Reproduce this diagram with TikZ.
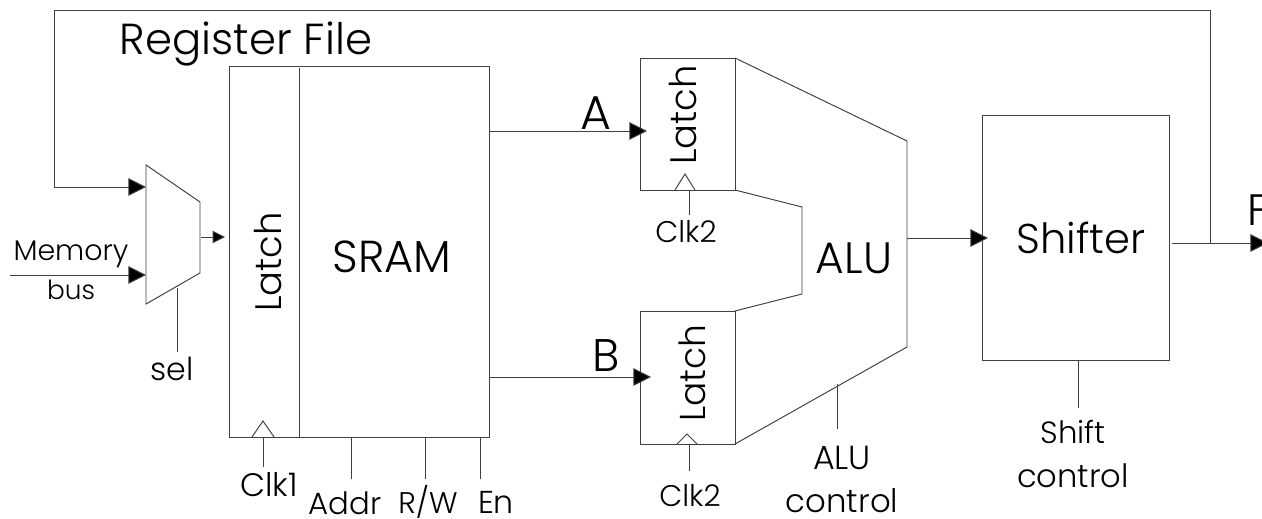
\documentclass[tikz,border=0pt]{standalone}
\usepackage{fontspec}
\setmainfont{Poppins Light}
\usetikzlibrary{arrows.meta}
\tikzset{
  line/.style={line width=0.55pt,draw=black!75},
  arw/.style={line,-{Triangle[length=10pt,width=10pt,fill=black]}},
  arwsmall/.style={line,-{Triangle[length=7pt,width=7pt,fill=black]}},
  box/.style={line,draw,inner sep=0pt,outer sep=0pt},
  lab/.style={inner sep=0pt,font=\fontsize{#1}{#1}\selectfont},
}
\begin{document}
\begin{tikzpicture}[x=0.02cm,y=-0.02cm]
\useasboundingbox (0,0) rectangle (1262,519);

\node[box,minimum width=260*0.02cm,minimum height=371*0.02cm](rf)at(359,251.5){};
\node[box,minimum width=95*0.02cm,minimum height=132*0.02cm](la)at(687.5,124){};
\node[box,minimum width=95*0.02cm,minimum height=133*0.02cm](lb)at(687.5,377.5){};
\node[box,minimum width=187*0.02cm,minimum height=245*0.02cm](sh)at(1075.5,237.5){};

% mux
\coordinate(m1)at(146,165);
\coordinate(m2)at(200,202);
\coordinate(m3)at(200,273);
\coordinate(m4)at(146,304);
\draw[line](m1)--(m2)--(m3)--(m4)--cycle;

% alu
\coordinate(a1)at(735,58);
\coordinate(a2)at(907,141);
\coordinate(a3)at(907,347);
\coordinate(a4)at(735,444);
\coordinate(a5)at(735,190);
\coordinate(a6)at(802,207);
\coordinate(a7)at(802,294);
\coordinate(a8)at(735,311);
\draw[line](a1)--(a2)--(a3)--(a4);
\draw[line](a5)--(a6)--(a7)--(a8);

% text
\node[lab=24.7](rft)at(246,44){Register File};
\node[lab=21,rotate=90](lt0)at(268,262){Latch};
\node[lab=25.5](sr)at(392,257){SRAM};
\node[lab=27](at)at(596,113){A};
\node[lab=26](bt)at(606,356){B};
\node[lab=21,rotate=90](lt1)at(683,115){Latch};
\node[lab=20.5,rotate=90](lt2)at(692,373){Latch};
\node[lab=25](alu)at(854,258){ALU};
\node[lab=23.7](sht)at(1081,238){Shifter};
\node[lab=25,anchor=west](ft)at(1247,210){F};
\node[lab=16.2](mem)at(71,254){Memory};
\node[lab=15](bus)at(71,290){bus};
\node[lab=18](sel)at(172,369){sel};
\node[lab=18.5](ck1)at(269,485){Clk1};
\node[lab=17.5](adr)at(345,503){Addr};
\node[lab=17](rw)at(428,502){R/W};
\node[lab=18](en)at(496,502){En};
\node[lab=17](ck2)at(686,232){Clk2};
\node[lab=17](ck3)at(690,496){Clk2};
\node[lab=19](alc)at(842,458){ALU};
\node[lab=18.4](alc2)at(842,501){control};
\node[lab=17.5](shc)at(1073,432){Shift};
\node[lab=18.3](shc2)at(1073,476){control};

% latch divider and clock ticks
\coordinate(d1)at(299,68);
\coordinate(d2)at(299,437);
\draw[line](d1)--(d2);
\coordinate(t1)at(252,437);
\coordinate(t2)at(263,421);
\coordinate(t3)at(274,437);
\draw[line](t1)--(t2)--(t3);
\coordinate(t4)at(675,190);
\coordinate(t5)at(685,174);
\coordinate(t6)at(695,190);
\draw[line](t4)--(t5)--(t6);
\coordinate(t7)at(677,444);
\coordinate(t8)at(687,434);
\coordinate(t9)at(697,444);
\draw[line](t7)--(t8)--(t9);

% arrows
\coordinate(fb0)at(1210,243);
\coordinate(fb1)at(1210,10);
\coordinate(fb2)at(54,10);
\coordinate(fb3)at(54,187);
\coordinate(mi1)at(146,187);
\draw[arw](fb0)--(fb1)--(fb2)--(fb3)--(mi1);
\coordinate(mi2)at(146,275);
\coordinate(bs)at(10,275);
\draw[arw](bs)--(mi2);
\coordinate(mo)at(201,237);
\coordinate(li)at(225,237);
\draw[arwsmall](mo)--(li);
\coordinate(ao)at(489,131);
\coordinate(ai)at(647,131);
\draw[arw](ao)--(ai);
\coordinate(bo)at(489,377);
\coordinate(bi)at(651,377);
\draw[arw](bo)--(bi);
\coordinate(alo)at(907,238);
\coordinate(shi)at(988,238);
\draw[arw](alo)--(shi);
\coordinate(sho)at(1172,243);
\coordinate(out)at(1268,243);
\draw[arw](sho)--(out);

% control lines
\coordinate(s1)at(177,288);
\coordinate(s2)at(177,352);
\draw[line](s1)--(s2);
\coordinate(c1)at(263,438);
\coordinate(c2)at(263,467);
\draw[line](c1)--(c2);
\coordinate(c3)at(351,437);
\coordinate(c4)at(351,479);
\draw[line](c3)--(c4);
\coordinate(c5)at(425,437);
\coordinate(c6)at(425,479);
\draw[line](c5)--(c6);
\coordinate(c7)at(480,437);
\coordinate(c8)at(480,479);
\draw[line](c7)--(c8);
\coordinate(c9)at(689,190);
\coordinate(c10)at(689,215);
\draw[line](c9)--(c10);
\coordinate(c11)at(689,444);
\coordinate(c12)at(689,471);
\draw[line](c11)--(c12);
\coordinate(c13)at(837,384);
\coordinate(c14)at(837,429);
\draw[line](c13)--(c14);
\coordinate(c15)at(1078,360);
\coordinate(c16)at(1078,408);
\draw[line](c15)--(c16);
\end{tikzpicture}
\end{document}
